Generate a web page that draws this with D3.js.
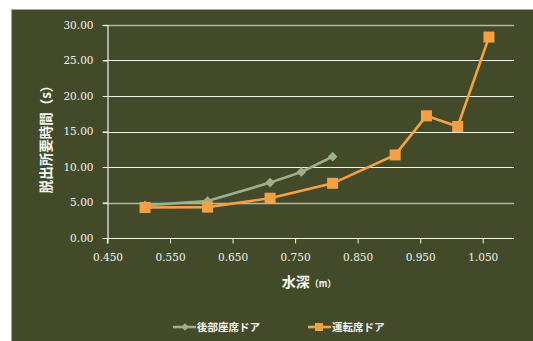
<!DOCTYPE html>
<html><head><meta charset="utf-8">
<script src="https://cdn.jsdelivr.net/npm/d3@7"></script>
<style>
html,body{margin:0;padding:0;background:#fff;}
svg{display:block;}
.tk text{font-family:"DejaVu Serif","Liberation Serif",serif !important;font-size:10.5px;}
</style></head>
<body>
<svg id="c" width="533" height="341"></svg>
<script>
const seriesNames = ["後部座席ドア", "運転席ドア"];
const rearX = [0.51, 0.61, 0.71, 0.76, 0.81];
const rearY = [4.6, 5.2, 7.8, 9.3, 11.45];
const driverX = [0.51, 0.61, 0.71, 0.81, 0.91, 0.96, 1.01, 1.06];
const driverY = [4.3, 4.35, 5.6, 7.7, 11.7, 17.2, 15.7, 28.3];
const xTicks = [0.45, 0.55, 0.65, 0.75, 0.85, 0.95, 1.05];
const yTicks = [0, 5, 10, 15, 20, 25, 30];
const yTitle = "脱出所要時間（s）";
const xTitle = "水深";
const xUnit = "（m）";

const bg = "#434a29", orange = "#f5a043", green = "#9db08a";
const svg = d3.select("#c");
svg.append("rect").attr("x",11.5).attr("y",9.5).attr("width",530).attr("height",340)
  .attr("fill",bg).attr("stroke","#a7a99a").attr("stroke-width",1);

const x = d3.scaleLinear().domain([0.45, 1.10]).range([107.5, 514]);
const y = d3.scaleLinear().domain([0, 30]).range([238, 25]);

// gridlines
const g = svg.append("g");
g.selectAll("line.grid").data(yTicks.filter(d=>d>0)).join("line")
  .attr("x1",103).attr("x2",514)
  .attr("y1",d=>Math.round(y(d))+0.5).attr("y2",d=>Math.round(y(d))+0.5)
  .attr("stroke",d=> (d===5||d===30) ? "#b3b6a3" : "#f2f2ee")
  .attr("stroke-width",d=> (d===5||d===30) ? 1.6 : 1.1);

// y axis
const ya = svg.append("g").attr("class","tk").attr("transform","translate(107.5,0)")
  .call(d3.axisLeft(y).tickValues(yTicks).tickFormat(d3.format(".2f")).tickSize(5).tickPadding(9));
ya.attr("font-family",null).attr("font-size",null);
ya.select(".domain").attr("stroke","#f2f2ee").attr("stroke-width",1.2);
ya.selectAll(".tick line").attr("stroke","#f2f2ee");
ya.selectAll("text").attr("fill","#f2f2ee");

// x axis
const xa = svg.append("g").attr("class","tk").attr("transform","translate(0,238.5)")
  .call(d3.axisBottom(x).tickValues(xTicks).tickFormat(d3.format(".3f")).tickSize(5).tickPadding(10));
xa.attr("font-family",null).attr("font-size",null);
xa.select(".domain").attr("stroke","#f2f2ee").attr("stroke-width",1.2).attr("d","M107.5,5V0H514");
xa.selectAll(".tick line").attr("stroke","#f2f2ee");
xa.selectAll("text").attr("fill","#f2f2ee");

const line = d3.line().x(d=>x(d[0])).y(d=>y(d[1]));
const rear = rearX.map((v,i)=>[v,rearY[i]]);
const drv = driverX.map((v,i)=>[v,driverY[i]]);

svg.append("path").attr("d",line(rear)).attr("fill","none").attr("stroke",green).attr("stroke-width",2.6);
svg.selectAll("path.dm").data(rear).join("path").attr("class","dm")
  .attr("d",d3.symbol(d3.symbolDiamond2,60)())
  .attr("transform",d=>`translate(${x(d[0])},${y(d[1])})`).attr("fill",green);

svg.append("path").attr("d",line(drv)).attr("fill","none").attr("stroke",orange).attr("stroke-width",2.6);
svg.selectAll("rect.sq").data(drv).join("rect").attr("class","sq")
  .attr("x",d=>x(d[0])-5.5).attr("y",d=>y(d[1])-5.5).attr("width",11).attr("height",11).attr("fill",orange);

// titles
const cjk = "'Noto Sans CJK JP','Noto Sans',sans-serif";
svg.append("text").attr("transform","translate(51,136) rotate(-90)")
  .attr("text-anchor","middle").attr("fill","#f5f5f0")
  .style("font-family",cjk).style("font-weight","bold").style("font-size","13.5px").text(yTitle);

const xt = svg.append("text").attr("x",309).attr("y",287).attr("text-anchor","middle").attr("fill","#f5f5f0")
  .style("font-family",cjk).style("font-weight","bold");
xt.append("tspan").style("font-size","14px").text(xTitle);
xt.append("tspan").style("font-size","9px").text(xUnit);

// legend
const leg = svg.append("g");
leg.append("line").attr("x1",173).attr("x2",196).attr("y1",327).attr("y2",327).attr("stroke",green).attr("stroke-width",2.6);
leg.append("path").attr("d",d3.symbol(d3.symbolDiamond2,36)()).attr("transform","translate(185,327)").attr("fill",green);
leg.append("text").attr("x",197).attr("y",331).attr("fill","#f5f5f0").style("font-family",cjk).style("font-size","10.5px").style("font-weight","bold").text(seriesNames[0]);
leg.append("line").attr("x1",308).attr("x2",331).attr("y1",327).attr("y2",327).attr("stroke",orange).attr("stroke-width",2.6);
leg.append("rect").attr("x",315).attr("y",323).attr("width",8).attr("height",8).attr("fill",orange);
leg.append("text").attr("x",332).attr("y",331).attr("fill","#f5f5f0").style("font-family",cjk).style("font-size","10.5px").style("font-weight","bold").text(seriesNames[1]);
</script>
</body></html>
